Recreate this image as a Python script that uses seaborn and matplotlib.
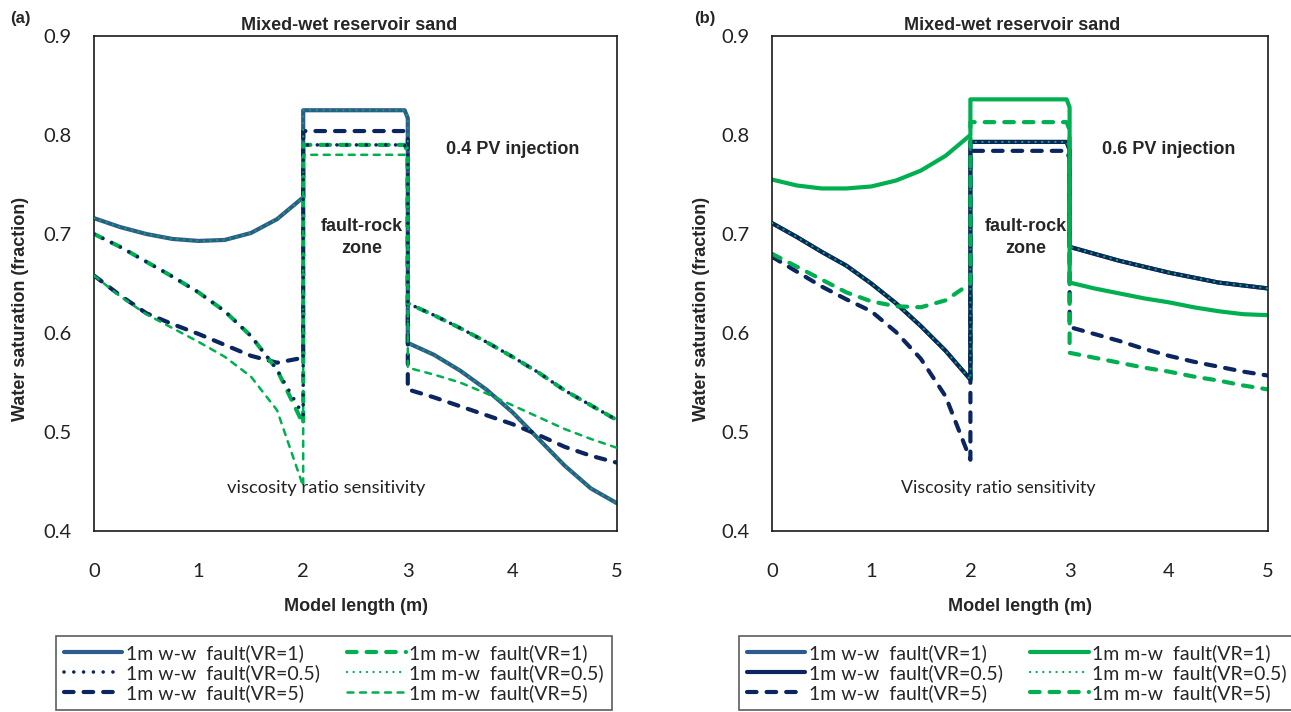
import matplotlib
matplotlib.use("Agg")
import matplotlib.pyplot as plt
import seaborn as sns
import pandas as pd

# ---------------- data ----------------
# x positions along the model (m); x = 2 and x = 3 repeat to draw the fault-rock zone edges
a_left_x = [0.0, 0.25, 0.5, 0.75, 1.0, 1.25, 1.5, 1.75, 2.0]
a_right_x = [3.0, 3.25, 3.5, 3.75, 4.0, 4.25, 4.5, 4.75, 5.0]

# panel (a): 0.4 PV injection
a_ww_vr1_left = [0.716, 0.707, 0.700, 0.695, 0.693, 0.694, 0.701, 0.715, 0.737]
a_ww_vr1_fault = 0.825
a_ww_vr1_right = [0.590, 0.578, 0.562, 0.543, 0.520, 0.493, 0.466, 0.443, 0.428]

a_ww_vr05_left = [0.700, 0.687, 0.672, 0.657, 0.641, 0.622, 0.597, 0.563, 0.517]
a_ww_vr05_fault = 0.790
a_ww_vr05_right = [0.630, 0.618, 0.605, 0.591, 0.576, 0.560, 0.542, 0.527, 0.512]

a_ww_vr5_left = [0.658, 0.638, 0.620, 0.609, 0.599, 0.588, 0.577, 0.570, 0.575]
a_ww_vr5_fault = 0.804
a_ww_vr5_right = [0.543, 0.535, 0.526, 0.517, 0.508, 0.497, 0.485, 0.476, 0.469]

a_mw_vr1_left = [0.700, 0.687, 0.672, 0.657, 0.641, 0.622, 0.597, 0.563, 0.508]
a_mw_vr1_fault = 0.790
a_mw_vr1_right = [0.630, 0.618, 0.605, 0.591, 0.576, 0.560, 0.542, 0.527, 0.512]

a_mw_vr05_left = [0.716, 0.707, 0.700, 0.695, 0.693, 0.694, 0.701, 0.715, 0.737]
a_mw_vr05_fault = 0.825
a_mw_vr05_right = [0.590, 0.578, 0.562, 0.543, 0.520, 0.493, 0.466, 0.443, 0.428]

a_mw_vr5_left = [0.658, 0.637, 0.619, 0.605, 0.591, 0.576, 0.556, 0.522, 0.445]
a_mw_vr5_fault = 0.780
a_mw_vr5_right = [0.565, 0.558, 0.550, 0.539, 0.527, 0.515, 0.503, 0.493, 0.484]

# panel (b): 0.6 PV injection
b_ww_vr1_left = [0.711, 0.697, 0.682, 0.668, 0.650, 0.630, 0.607, 0.582, 0.553]
b_ww_vr1_fault = 0.793
b_ww_vr1_right = [0.687, 0.680, 0.673, 0.667, 0.661, 0.656, 0.651, 0.648, 0.645]

b_ww_vr05_left = [0.711, 0.697, 0.682, 0.668, 0.650, 0.630, 0.607, 0.582, 0.553]
b_ww_vr05_fault = 0.793
b_ww_vr05_right = [0.687, 0.680, 0.673, 0.667, 0.661, 0.656, 0.651, 0.648, 0.645]

b_ww_vr5_left = [0.677, 0.662, 0.647, 0.634, 0.622, 0.601, 0.574, 0.536, 0.472]
b_ww_vr5_fault = 0.784
b_ww_vr5_right = [0.606, 0.599, 0.592, 0.584, 0.577, 0.571, 0.566, 0.561, 0.557]

b_mw_vr1_left = [0.755, 0.749, 0.746, 0.746, 0.748, 0.754, 0.764, 0.779, 0.800]
b_mw_vr1_fault = 0.836
b_mw_vr1_right = [0.651, 0.645, 0.640, 0.635, 0.631, 0.626, 0.622, 0.619, 0.618]

b_mw_vr05_left = [0.711, 0.697, 0.682, 0.668, 0.650, 0.630, 0.607, 0.582, 0.553]
b_mw_vr05_fault = 0.793
b_mw_vr05_right = [0.687, 0.680, 0.673, 0.667, 0.661, 0.656, 0.651, 0.648, 0.645]

b_mw_vr5_left = [0.680, 0.667, 0.654, 0.641, 0.632, 0.627, 0.626, 0.633, 0.650]
b_mw_vr5_fault = 0.813
b_mw_vr5_right = [0.580, 0.575, 0.570, 0.565, 0.561, 0.556, 0.552, 0.547, 0.543]

labels = ["1m w-w  fault(VR=1)", "1m w-w  fault(VR=0.5)", "1m w-w  fault(VR=5)",
          "1m m-w  fault(VR=1)", "1m m-w  fault(VR=0.5)", "1m m-w  fault(VR=5)"]

x_ticks = [0, 1, 2, 3, 4, 5]
y_ticks = [0.4, 0.5, 0.6, 0.7, 0.8, 0.9]

# ---------------- style ----------------
sns.set_style("white")
plt.rcParams["font.family"] = ["Lato", "DejaVu Sans"]
BOLD = ["Liberation Sans Narrow", "Liberation Sans", "DejaVu Sans"]

STEEL = "#2F5A8E"
NAVY = "#0B2560"
GREEN = "#00B050"


def profile(left, fault, right):
    """Assemble one saturation profile through the fault-rock zone."""
    xs = list(a_left_x) + [2.0, 2.97, 3.0] + list(a_right_x)
    ys = list(left) + [fault, fault, fault - 0.008] + list(right)
    return pd.DataFrame({"x": xs, "y": ys})


# line appearance for each series: color, width, linestyle, zorder
STYLES_A = {
    labels[0]: dict(color=STEEL, lw=3.0, ls="-", z=2.0),
    labels[1]: dict(color=NAVY, lw=2.6, ls=(0, (0.01, 2.7)), z=3.2),
    labels[2]: dict(color=NAVY, lw=3.0, ls=(0, (2.3, 2.4)), z=2.2),
    labels[3]: dict(color=GREEN, lw=3.0, ls=(0, (2.3, 2.4)), z=2.4),
    labels[4]: dict(color=GREEN, lw=1.7, ls=(0, (0.01, 2.8)), z=3.0),
    labels[5]: dict(color=GREEN, lw=1.8, ls=(0, (2.4, 2.6)), z=2.6),
}
STYLES_B = {
    labels[0]: dict(color=STEEL, lw=3.0, ls="-", z=2.0),
    labels[1]: dict(color=NAVY, lw=3.0, ls="-", z=2.1),
    labels[2]: dict(color=NAVY, lw=3.0, ls=(0, (2.3, 2.4)), z=2.2),
    labels[3]: dict(color=GREEN, lw=3.0, ls="-", z=2.3),
    labels[4]: dict(color=GREEN, lw=1.7, ls=(0, (0.01, 2.8)), z=3.0),
    labels[5]: dict(color=GREEN, lw=3.0, ls=(0, (2.3, 2.4)), z=2.4),
}

series_a = [
    (a_ww_vr1_left, a_ww_vr1_fault, a_ww_vr1_right),
    (a_ww_vr05_left, a_ww_vr05_fault, a_ww_vr05_right),
    (a_ww_vr5_left, a_ww_vr5_fault, a_ww_vr5_right),
    (a_mw_vr1_left, a_mw_vr1_fault, a_mw_vr1_right),
    (a_mw_vr05_left, a_mw_vr05_fault, a_mw_vr05_right),
    (a_mw_vr5_left, a_mw_vr5_fault, a_mw_vr5_right),
]
series_b = [
    (b_ww_vr1_left, b_ww_vr1_fault, b_ww_vr1_right),
    (b_ww_vr05_left, b_ww_vr05_fault, b_ww_vr05_right),
    (b_ww_vr5_left, b_ww_vr5_fault, b_ww_vr5_right),
    (b_mw_vr1_left, b_mw_vr1_fault, b_mw_vr1_right),
    (b_mw_vr05_left, b_mw_vr05_fault, b_mw_vr05_right),
    (b_mw_vr5_left, b_mw_vr5_fault, b_mw_vr5_right),
]

W, H = 1291, 712
fig = plt.figure(figsize=(W / 100, H / 100), dpi=100)
fig.patch.set_facecolor("white")

ax_a = fig.add_axes([94 / W, 1 - 531 / H, (617 - 94) / W, (531 - 36) / H])
ax_b = fig.add_axes([772 / W, 1 - 531 / H, (1268 - 772) / W, (531 - 36) / H])


def draw_panel(ax, series, styles, pv_text, sens_text, sens_x, sens_size, title_x_shift):
    for lab, (left, fault, right) in zip(labels, series):
        st = styles[lab]
        df = profile(left, fault, right)
        sns.lineplot(data=df, x="x", y="y", ax=ax, sort=False, estimator=None,
                     color=st["color"], linewidth=st["lw"], linestyle=st["ls"],
                     dash_capstyle="round", solid_capstyle="round",
                     solid_joinstyle="round", zorder=st["z"], label=lab)
    ax.set_xlim(0, 5)
    ax.set_ylim(0.4, 0.9)
    ax.set_xticks(x_ticks)
    ax.set_xticklabels([str(t) for t in x_ticks])
    ax.set_yticks(y_ticks)
    ax.set_yticklabels([f"{t:.1f}" for t in y_ticks])
    ax.tick_params(axis="x", length=0, pad=23, labelsize=14.5, colors="#222222")
    ax.tick_params(axis="y", length=0, pad=16, labelsize=14.5, colors="#222222")
    for sp in ax.spines.values():
        sp.set_color("#1a1a1a")
        sp.set_linewidth(1.2)
    ax.set_xlabel("Model length (m)", family=BOLD, fontweight="bold", fontsize=13)
    ax.xaxis.set_label_coords(0.5, -0.136)
    ax.set_ylabel("Water saturation (fraction)", family=BOLD, fontweight="bold", fontsize=13)
    ax.yaxis.set_label_coords(-0.125, 0.448)
    ax.set_title("Mixed-wet reservoir sand", family=BOLD, fontweight="bold",
                 fontsize=13, pad=4, x=0.5 + title_x_shift)
    ax.text(4.0, 0.785, pv_text, family=BOLD, fontweight="bold", fontsize=13,
            ha="center", va="center")
    ax.text(2.56, 0.6965, "fault-rock\nzone", family=BOLD, fontweight="bold",
            fontsize=13, ha="center", va="center", linespacing=1.45)
    ax.text(sens_x, 0.443, sens_text, fontsize=sens_size, ha="center", va="center",
            color="#222222")
    leg = ax.get_legend()
    if leg is not None:
        leg.remove()


draw_panel(ax_a, series_a, STYLES_A, "0.4 PV injection",
           "viscosity ratio sensitivity", 2.22, 13.2, -0.012)
draw_panel(ax_b, series_b, STYLES_B, "0.6 PV injection",
           "Viscosity ratio sensitivity", 2.28, 12.8, -0.015)

fig.text(20 / W, 1 - 18 / H, "(a)", family=BOLD, fontweight="bold",
         fontsize=12, ha="center", va="center")
fig.text(705 / W, 1 - 18 / H, "(b)", family=BOLD, fontweight="bold",
         fontsize=12, ha="center", va="center")


def add_legend(ax, x0, colspace):
    handles, labs = ax.get_legend_handles_labels()
    order = [labs.index(l) for l in labels]
    leg = fig.legend([handles[i] for i in order], [labs[i] for i in order],
                     loc="upper left", bbox_to_anchor=(x0 / W, 1 - 636 / H),
                     ncol=2, frameon=True, fancybox=False,
                     prop={"family": ["Lato", "DejaVu Sans"], "size": 14},
                     edgecolor="#333333", handlelength=3.0, handletextpad=0.2,
                     columnspacing=colspace, labelspacing=0.12, borderpad=0.4,
                     borderaxespad=0)
    leg.get_frame().set_linewidth(1.2)
    return leg


add_legend(ax_a, 56, 1.4)
add_legend(ax_b, 739, 1.4)

fig.savefig("out.png", dpi=100, facecolor="white")
